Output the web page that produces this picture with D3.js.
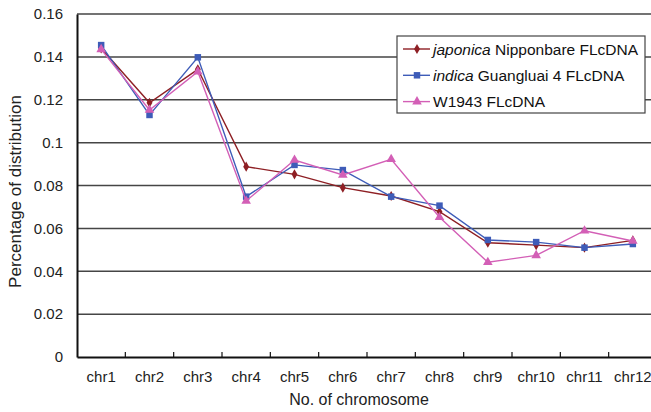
<!DOCTYPE html>
<html>
<head>
<meta charset="utf-8">
<script src="https://cdn.jsdelivr.net/npm/d3@7"></script>
<style>
  body { margin: 0; background: #fff; }
  svg { display: block; font-family: "Liberation Sans", Arial, sans-serif; }
</style>
</head>
<body>
<div id="my_dataviz"></div>
<script>
// chromosome categories
var chromosomes = ['chr1', 'chr2', 'chr3', 'chr4', 'chr5', 'chr6',
  'chr7', 'chr8', 'chr9', 'chr10', 'chr11', 'chr12'];

// values
var japonica = [0.144, 0.1186, 0.1342, 0.0888, 0.0852, 0.079,
  0.0751, 0.0678, 0.0533, 0.0522, 0.051, 0.0544];
var indica = [0.1455, 0.1129, 0.1398, 0.0748, 0.0896, 0.0872,
  0.0748, 0.0706, 0.0546, 0.0536, 0.051, 0.0527];
var w1943 = [0.1435, 0.1152, 0.1331, 0.0728, 0.0919, 0.0849,
  0.0922, 0.0652, 0.0442, 0.0474, 0.0589, 0.0541];

var yTicks = [0, 0.02, 0.04, 0.06, 0.08, 0.1, 0.12, 0.14, 0.16];

var series = [
  {name: "japonica", rest: " Nipponbare FLcDNA", values: japonica, color: "#8e1f24", shape: d3.symbolDiamond, size: 30},
  {name: "indica", rest: " Guangluai 4 FLcDNA", values: indica, color: "#3e5cb8", shape: d3.symbolSquare, size: 42},
  {name: "", rest: "W1943 FLcDNA", values: w1943, color: "#d35fb6", shape: d3.symbolTriangle, size: 40}
];

var margin = {top: 14, left: 77},
    width = 580,
    height = 343;

var svg = d3.select("#my_dataviz")
  .append("svg")
  .attr("width", 651)
  .attr("height", 412)
  .append("g")
  .attr("transform", "translate(" + margin.left + "," + margin.top + ")");

var x = d3.scaleBand()
  .range([0, width])
  .domain(chromosomes);

var y = d3.scaleLinear()
  .range([height, 0])
  .domain([0, 0.16]);

// gridlines
svg.append("g")
  .selectAll("line")
  .data(yTicks.slice(1))
  .enter()
  .append("line")
  .attr("x1", 0)
  .attr("x2", width)
  .attr("y1", function(d) { return y(d); })
  .attr("y2", function(d) { return y(d); })
  .style("stroke", "#454545")
  .style("stroke-width", 1.5);

// y axis
var yAxis = svg.append("g")
  .call(d3.axisLeft(y).tickValues(yTicks).tickSize(0).tickPadding(14)
    .tickFormat(function(d) { return String(+d.toFixed(2)); }));
yAxis.select(".domain").style("stroke", "#111").style("stroke-width", 2);
yAxis.selectAll("text").style("font-size", "15px").style("fill", "#222");

// x axis, ticks point up into the plot
var xAxis = svg.append("g")
  .attr("transform", "translate(0," + height + ")")
  .call(d3.axisBottom(x).tickSize(0).tickPadding(14));
xAxis.select(".domain").style("stroke", "#111").style("stroke-width", 2);
xAxis.selectAll("text").style("font-size", "15px").style("fill", "#222");
xAxis.selectAll(".boundary")
  .data(chromosomes.slice(1))
  .enter()
  .append("line")
  .attr("x1", function(d) { return x(d); })
  .attr("x2", function(d) { return x(d); })
  .attr("y1", 0)
  .attr("y2", -5)
  .style("stroke", "#111")
  .style("stroke-width", 1.2);

// lines and markers
var line = d3.line()
  .x(function(d, i) { return x(chromosomes[i]) + x.bandwidth() / 2; })
  .y(function(d) { return y(d); });

series.forEach(function(s) {
  svg.append("path")
    .datum(s.values)
    .attr("d", line)
    .style("fill", "none")
    .style("stroke", s.color)
    .style("stroke-width", 1.4);
  svg.selectAll()
    .data(s.values)
    .enter()
    .append("path")
    .attr("d", d3.symbol().type(s.shape).size(s.size))
    .attr("transform", function(d, i) {
      return "translate(" + (x(chromosomes[i]) + x.bandwidth() / 2) + "," + y(d) + ")";
    })
    .style("fill", s.color);
});

// axis titles
svg.append("text")
  .attr("x", width / 2 - 8)
  .attr("y", height + 48)
  .attr("text-anchor", "middle")
  .style("font-size", "16px")
  .style("fill", "#222")
  .text("No. of chromosome");

svg.append("text")
  .attr("transform", "translate(" + (-56) + "," + (height / 2 + 6) + ") rotate(-90)")
  .attr("text-anchor", "middle")
  .style("font-size", "17px")
  .style("fill", "#222")
  .text("Percentage of distribution");

// legend
var legend = svg.append("g")
  .attr("transform", "translate(320,22)");
legend.append("rect")
  .attr("x", 0)
  .attr("y", 0)
  .attr("width", 248)
  .attr("height", 77)
  .style("fill", "#fff")
  .style("stroke", "#444")
  .style("stroke-width", 1.2);

var item = legend.selectAll(".item")
  .data(series)
  .enter()
  .append("g")
  .attr("transform", function(d, i) { return "translate(0," + (13 + i * 26.3) + ")"; });
item.append("line")
  .attr("x1", 6)
  .attr("x2", 33)
  .style("stroke", function(d) { return d.color; })
  .style("stroke-width", 1.4);
item.append("path")
  .attr("d", function(d) { return d3.symbol().type(d.shape).size(d.size)(); })
  .attr("transform", "translate(20,0)")
  .style("fill", function(d) { return d.color; });
var label = item.append("text")
  .attr("x", 36)
  .attr("y", 5.5)
  .style("font-size", "15.5px")
  .style("fill", "#111");
label.append("tspan")
  .style("font-style", "italic")
  .text(function(d) { return d.name; });
label.append("tspan")
  .text(function(d) { return d.rest; });
</script>
</body>
</html>
